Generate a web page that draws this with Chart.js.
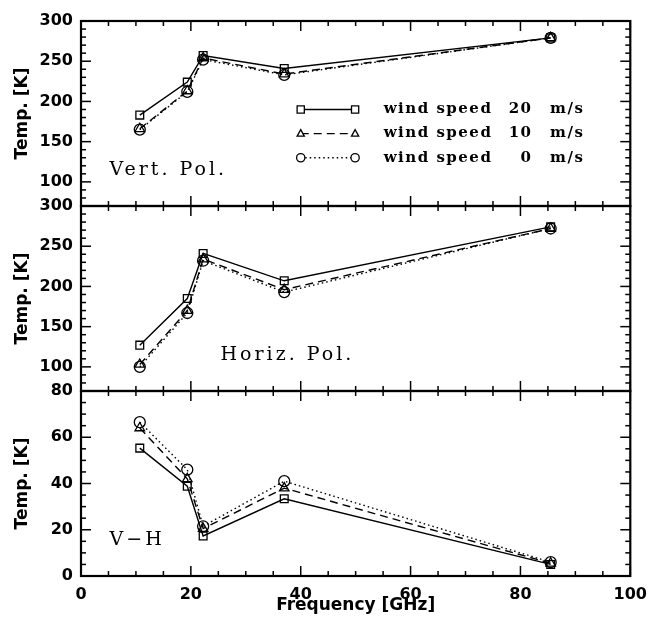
<!DOCTYPE html>
<html>
<head>
<meta charset="utf-8">
<script src="https://cdn.jsdelivr.net/npm/chart.js@4.4.1/dist/chart.umd.min.js"></script>
<style>
  body { margin: 0; background: #fff; }
  #wrap { width: 656px; height: 625px; }
</style>
</head>
<body>
<div id="wrap"><canvas id="tempChart" width="656" height="625"></canvas></div>
<script>
// frequencies of the radiometer channels [GHz]
const freq = [10.7, 19.35, 22.235, 37.0, 85.5];
const windSpeeds = ['20', '10', '0'];

// vertical polarisation
const vert20 = [183, 224, 257, 241, 279];
const vert10 = [166, 213, 254, 234, 279];
const vert0 = [165, 212, 252, 233, 279];
// horizontal polarisation
const horiz20 = [127, 185, 241, 207, 274];
const horiz10 = [103, 170, 234, 196, 272];
const horiz0 = [100, 167, 232, 193, 272];
// V - H
const diff20 = [55.3, 38.8, 17.3, 33.4, 5.0];
const diff10 = [64, 42, 20.5, 38, 5.5];
const diff0 = [66.5, 46, 21.5, 41, 6.0];

// tick labels
const xTicks = [0, 20, 40, 60, 80, 100];
const tempTicks = [100, 150, 200, 250, 300];
const diffTicks = [0, 20, 40, 60, 80];

const panelNames = ['Vert. Pol.', 'Horiz. Pol.', 'V\u2212H'];

const styles = [
  { pointStyle: 'rect', borderDash: [] },
  { pointStyle: 'triangle', borderDash: [8, 5] },
  { pointStyle: 'circle', borderDash: [1.5, 3] }
];

const panels = [
  { id: 'yV', min: 70, max: 300, ticks: tempTicks, major: 50, minor: 10, series: [vert20, vert10, vert0] },
  { id: 'yH', min: 70, max: 300, ticks: tempTicks, major: 50, minor: 10, series: [horiz20, horiz10, horiz0] },
  { id: 'yD', min: 0, max: 80, ticks: diffTicks, major: 20, minor: 5, series: [diff20, diff10, diff0] }
];

const datasets = [];
panels.forEach(p => {
  p.series.forEach((vals, i) => {
    datasets.push({
      label: 'wind speed ' + windSpeeds[i] + ' m/s',
      data: freq.map((f, k) => ({ x: f, y: vals[k] })),
      yAxisID: p.id,
      borderColor: '#000',
      borderWidth: 1.4,
      borderDash: styles[i].borderDash,
      pointStyle: styles[i].pointStyle,
      pointRadius: 5.5,
      pointBorderWidth: 1.3,
      pointBorderColor: '#000',
      pointBackgroundColor: 'rgba(0,0,0,0)',
      tension: 0
    });
  });
});

const tickFont = { family: 'DejaVu Sans', size: 16, weight: 'bold' };
const titleFont = { family: 'DejaVu Sans', size: 17, weight: 'bold' };

// stacked scales are placed bottom-up, so add them in reverse order
const yScales = {};
panels.slice().reverse().forEach(p => {
  yScales[p.id] = {
    type: 'linear',
    position: 'left',
    stack: 'panels',
    stackWeight: 1,
    min: p.min,
    max: p.max,
    grid: { display: false, drawTicks: false },
    border: { display: false },
    ticks: { font: tickFont, color: '#000', padding: 8, autoSkip: false },
    title: { display: true, text: 'Temp. [K]', font: titleFont, color: '#000', padding: { top: 12, bottom: 12 } },
    afterBuildTicks: s => { s.ticks = p.ticks.map(v => ({ value: v })); },
    afterFit: s => { s.width = 81; }
  };
});

function marker(ctx, style, x, y, r) {
  ctx.beginPath();
  if (style === 'rect') {
    ctx.rect(x - r, y - r, 2 * r, 2 * r);
  } else if (style === 'triangle') {
    ctx.moveTo(x, y - r * 1.1);
    ctx.lineTo(x + r, y + r * 0.7);
    ctx.lineTo(x - r, y + r * 0.7);
    ctx.closePath();
  } else {
    ctx.arc(x, y, r * 1.15, 0, Math.PI * 2);
  }
  ctx.fill();
  ctx.stroke();
}

const framePlugin = {
  id: 'frame',
  afterDatasetsDraw(chart) {
    const ctx = chart.ctx;
    const xs = chart.scales.x;
    const left = xs.left, right = xs.right;
    ctx.save();
    ctx.strokeStyle = '#000';
    ctx.fillStyle = '#000';
    const seg = (x1, y1, x2, y2) => { ctx.beginPath(); ctx.moveTo(x1, y1); ctx.lineTo(x2, y2); ctx.stroke(); };

    panels.forEach((p, pi) => {
      const ys = chart.scales[p.id];
      const top = ys.top, bottom = ys.bottom;
      ctx.lineWidth = 1.5;
      // x ticks on top and bottom edges
      for (let k = 0; k <= 20; k++) {
        const v = k * 5;
        const px = xs.getPixelForValue(v);
        const len = v % 20 === 0 ? 10 : 5;
        seg(px, top, px, top + len);
        seg(px, bottom, px, bottom - len);
      }
      // y ticks on left and right edges
      const n = Math.round((p.max - p.min) / p.minor);
      for (let k = 0; k <= n; k++) {
        const v = p.min + k * p.minor;
        const py = ys.getPixelForValue(v);
        const len = v % p.major === 0 ? 10 : 5;
        seg(left, py, left + len, py);
        seg(right, py, right - len, py);
      }
      ctx.lineWidth = 2.2;
      ctx.strokeRect(left, top, right - left, bottom - top);

      // panel label
      ctx.font = '19px "DejaVu Serif"';
      ctx.letterSpacing = '3px';
      ctx.textAlign = 'left';
      ctx.textBaseline = 'alphabetic';
      const lx = pi === 1 ? 25.4 : 5.2;
      const ly = pi === 2 ? 13.4 : 108.7;
      ctx.fillText(panelNames[pi], xs.getPixelForValue(lx), ys.getPixelForValue(ly));
    });

    // legend inside the top panel
    const yV = chart.scales.yV;
    const rows = [190, 160, 130];
    ctx.lineWidth = 1.3;
    for (let i = 0; i < 3; i++) {
      const ds = chart.data.datasets[i];
      const y = yV.getPixelForValue(rows[i]);
      const x1 = xs.getPixelForValue(40.0), x2 = xs.getPixelForValue(49.9);
      ctx.setLineDash(ds.borderDash);
      seg(x1, y, x2, y);
      ctx.setLineDash([]);
      ctx.fillStyle = '#fff';
      marker(ctx, ds.pointStyle, x1, y, 3.6);
      marker(ctx, ds.pointStyle, x2, y, 3.6);
      ctx.fillStyle = '#000';
      ctx.font = 'bold 15px "DejaVu Serif"';
      ctx.letterSpacing = '1.5px';
      ctx.textBaseline = 'middle';
      ctx.textAlign = 'left';
      ctx.fillText('wind speed', xs.getPixelForValue(55.1), y);
      ctx.textAlign = 'right';
      ctx.fillText(windSpeeds[i], xs.getPixelForValue(82.2), y);
      ctx.textAlign = 'left';
      ctx.fillText('m/s', xs.getPixelForValue(85.4), y);
    }
    ctx.letterSpacing = '0px';
    ctx.restore();
  }
};

new Chart(document.getElementById('tempChart'), {
  type: 'line',
  data: { datasets: datasets },
  options: {
    responsive: false,
    animation: false,
    layout: { padding: { top: 21, right: 20, left: 0, bottom: 0 } },
    plugins: { legend: { display: false }, tooltip: { enabled: false } },
    scales: Object.assign({
      x: {
        type: 'linear',
        position: 'bottom',
        min: 0,
        max: 100,
        grid: { display: false, drawTicks: false },
        border: { display: false },
        ticks: { font: tickFont, color: '#000', padding: 9, autoSkip: false, maxRotation: 0 },
        title: { display: true, text: 'Frequency [GHz]', font: titleFont, color: '#000', padding: { top: 9, bottom: 9 } },
        afterBuildTicks: s => { s.ticks = xTicks.map(v => ({ value: v })); },
        afterFit: s => { s.height = 49; }
      }
    }, yScales)
  },
  plugins: [framePlugin]
});
</script>
</body>
</html>
